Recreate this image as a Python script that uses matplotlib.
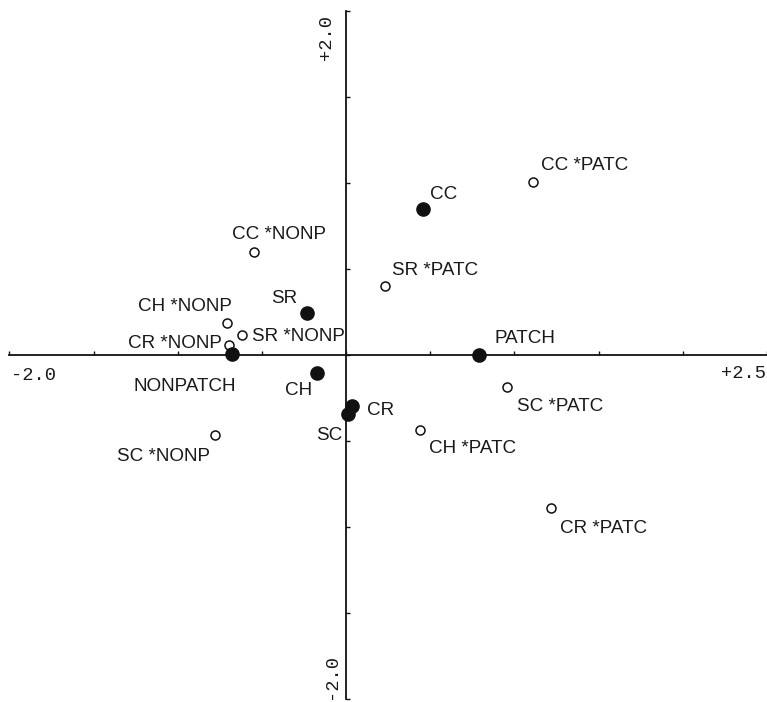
import matplotlib
matplotlib.use("Agg")
import matplotlib.pyplot as plt
import numpy as np

# main effects (filled circles)
main_labels = ["CC", "SR", "NONPATCH", "CH", "CR", "SC", "PATCH"]
main_x = [0.454, -0.234, -0.680, -0.175, 0.033, 0.009, 0.792]
main_y = [0.849, 0.244, 0.006, -0.105, -0.297, -0.343, 0.000]

# interactions (open circles)
inter_labels = ["CC *PATC", "CC *NONP", "SR *PATC", "CH *NONP", "SR *NONP",
                "CR *NONP", "SC *PATC", "CH *PATC", "SC *NONP", "CR *PATC"]
inter_x = [1.113, -0.549, 0.228, -0.709, -0.620, -0.697, 0.953, 0.436, -0.780, 1.214]
inter_y = [1.006, 0.599, 0.401, 0.186, 0.116, 0.058, -0.186, -0.436, -0.465, -0.890]

# label placement: (dx px, dy px, horizontal alignment)
LABEL_POS = {
    "CC": (7, 15, "left"),
    "SR": (-9, 15, "right"),
    "NONPATCH": (-47, -32, "center"),
    "CH": (-5, -17, "right"),
    "CR": (15, -4, "left"),
    "SC": (-5, -21, "right"),
    "PATCH": (15, 17, "left"),
    "CC *PATC": (8, 16, "left"),
    "CC *NONP": (-22, 18, "left"),
    "SR *PATC": (7, 16, "left"),
    "CH *NONP": (5, 17, "right"),
    "SR *NONP": (10, -1, "left"),
    "CR *NONP": (-7, 2, "right"),
    "SC *PATC": (10, -19, "left"),
    "CH *PATC": (9, -18, "left"),
    "SC *NONP": (-5, -21, "right"),
    "CR *PATC": (9, -20, "left"),
}

LABEL_FONT = dict(family="Liberation Sans", fontsize=13.6, color="#1a1a1a")
TICK_FONT = dict(family="Liberation Mono", fontsize=13.5, color="#1a1a1a")

fig = plt.figure(figsize=(7.67, 7.02), dpi=100)
ax = fig.add_axes([0, 0, 1, 1])
ax.set_xlim(-2.056, 2.496)
ax.set_ylim(-2.017, 2.064)

# axes crossing at the origin
for side in ("top", "right"):
    ax.spines[side].set_visible(False)
ax.spines["bottom"].set_position(("data", 0))
ax.spines["left"].set_position(("data", 0))
ax.spines["bottom"].set_bounds(-2.0, 2.5)
ax.spines["left"].set_bounds(-2.0, 2.0)
for side in ("bottom", "left"):
    ax.spines[side].set_linewidth(1.3)
    ax.spines[side].set_color("#111111")
ax.set_xticks(np.arange(-2.0, 2.51, 0.5))
ax.set_yticks(np.arange(-2.0, 2.01, 0.5))
ax.tick_params(direction="in", length=3, width=1, colors="#111111",
               labelbottom=False, labelleft=False)
ax.patch.set_visible(False)

ax.plot(inter_x, inter_y, "o", ms=6.5, mfc="white", mec="#111111", mew=1.1,
        linestyle="none", zorder=3)
ax.plot(main_x, main_y, "o", ms=9.5, mfc="#111111", mec="#111111",
        linestyle="none", zorder=4)

for lab, x, y in zip(main_labels + inter_labels, main_x + inter_x, main_y + inter_y):
    dx, dy, ha = LABEL_POS[lab]
    ax.annotate(lab, (x, y), xytext=(dx, dy), textcoords="offset pixels",
                ha=ha, va="center", **LABEL_FONT)

# axis end labels
ax.annotate("-2.0", (-2.0, 0), xytext=(2, -20), textcoords="offset pixels",
            ha="left", va="center", **TICK_FONT)
ax.annotate("+2.5", (2.5, 0), xytext=(-1, -18), textcoords="offset pixels",
            ha="right", va="center", **TICK_FONT)
ax.annotate("+2.0", (0, 2.0), xytext=(-11, -4), textcoords="offset pixels",
            ha="right", va="top", rotation=90, **TICK_FONT)
ax.annotate("-2.0", (0, -2.0), xytext=(-6, 0), textcoords="offset pixels",
            ha="right", va="bottom", rotation=90, **TICK_FONT)

fig.savefig("out.png", dpi=100)
